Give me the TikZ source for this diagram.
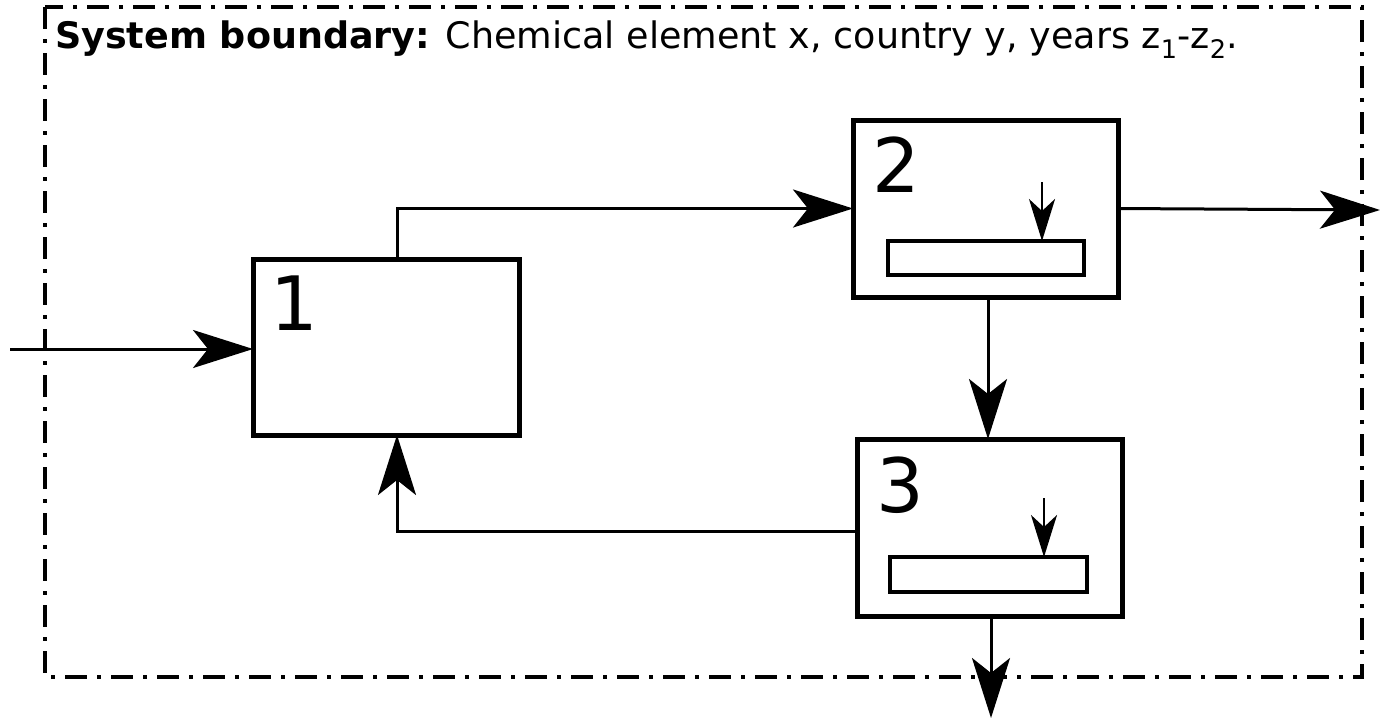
\documentclass[tikz,border=0pt]{standalone}
\usepackage{fontspec}
\setmainfont{DejaVu Sans}
\usetikzlibrary{arrows.meta}
\begin{document}
\begin{tikzpicture}[x=1pt,y=-1pt,
  procbox/.style={draw,line width=5pt,inner sep=0pt,outer sep=0pt},
  stockbar/.style={draw,line width=4pt,inner sep=0pt,outer sep=0pt},
  flow/.style={line width=3pt,-{Stealth[length=60pt,width=38pt,inset=15pt]}},
  minorflow/.style={line width=2.5pt,-{Stealth[length=42pt,width=26pt,inset=12pt]}},
  numlabel/.style={anchor=base west,inner sep=0pt,font=\fontsize{75}{75}\selectfont},
  boundary/.style={line width=4pt,dash pattern=on 22pt off 10pt on 4pt off 10pt}
]
\useasboundingbox (0,0) rectangle (1380,721);

% system boundary
\draw[boundary] (45,7) rectangle (1362,677);
\node[anchor=base west,inner sep=0pt,font=\fontsize{36.5}{36.5}\selectfont] (title) at (55,48)
  {\textbf{System boundary:} Chemical element x, country y, years z\textsubscript{1}-z\textsubscript{2}.};

% processes
\node[procbox,minimum width=266pt,minimum height=176pt] (b1) at (386,347) {};
\node[procbox,minimum width=265pt,minimum height=177pt] (b2) at (985.5,208.5) {};
\node[procbox,minimum width=265pt,minimum height=177pt] (b3) at (989.5,527.5) {};

\node[numlabel] (n1) at (270,330) {1};
\node[numlabel] (n2) at (872,192) {2};
\node[numlabel] (n3) at (876,512) {3};

% stocks
\node[stockbar,minimum width=196pt,minimum height=34pt] (s2) at (986,258) {};
\node[stockbar,minimum width=197pt,minimum height=35pt] (s3) at (988.5,574.5) {};
\coordinate (s2in) at (1042,182);
\coordinate (s3in) at (1044,498);
\draw[minorflow] (s2in) -- (s2in |- s2.north);
\draw[minorflow] (s3in) -- (s3in |- s3.north);

% flows
\coordinate (in) at (10,349);
\coordinate (c13) at (397,0);
\coordinate (c23) at (988,0);
\coordinate (c3o) at (991,0);
\coordinate (out2) at (1380,210);
\coordinate (out3) at (991,718);
\coordinate (r31) at (0,531);

\draw[flow] (in) -- (in -| b1.west);
\draw[flow] (b1.north -| c13) |- (b2.west);
\draw[flow] (b2.east) -- (out2);
\draw[flow] (b2.south -| c23) -- (b3.north -| c23);
\draw[flow] (b3.west |- r31) -| (b1.south -| c13);
\draw[flow] (b3.south -| c3o) -- (out3);
\end{tikzpicture}
\end{document}
